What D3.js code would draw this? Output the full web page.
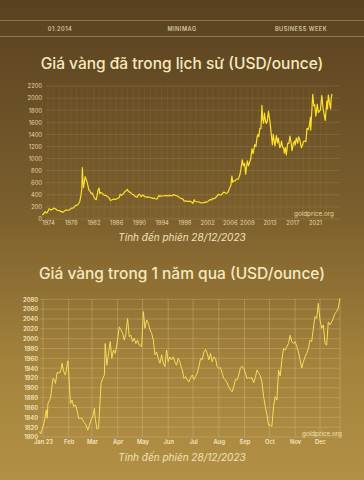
<!DOCTYPE html>
<html>
<head>
<meta charset="utf-8">
<script src="https://cdn.jsdelivr.net/npm/d3@7"></script>
<style>
  html, body { margin: 0; padding: 0; background: #5a4220; }
  svg { display: block; }
</style>
</head>
<body>
<div id="chart"></div>
<script>
// header strip
var headerTexts = ["01.2014", "MINIMAG", "BUSINESS WEEK"]
var titles = ["Giá vàng đã trong lịch sử (USD/ounce)", "Giá vàng trong 1 năm qua (USD/ounce)"]
var caption = "Tính đến phiên 28/12/2023"
var source = "goldprice.org"

// chart 1: history (year, USD/oz)
var histYears = [1973.0,1973.3,1973.5,1973.8,1974.0,1974.2,1974.5,1974.8,1975.0,1975.3,1975.6,1975.9,
  1976.2,1976.6,1976.9,1977.2,1977.6,1977.9,1978.2,1978.5,1978.8,1979.0,1979.3,1979.6,1979.8,1979.95,
  1980.05,1980.15,1980.25,1980.4,1980.55,1980.7,1980.85,1981.0,1981.2,1981.4,1981.6,1981.8,1982.0,1982.3,
  1982.5,1982.7,1982.8,1983.0,1983.1,1983.3,1983.6,1983.9,1984.2,1984.5,1984.8,1985.0,1985.3,1985.6,1985.9,
  1986.2,1986.5,1986.7,1986.9,1987.2,1987.5,1987.8,1987.95,1988.2,1988.5,1988.8,1989.1,1989.4,1989.7,1989.9,
  1990.1,1990.4,1990.7,1990.9,1991.2,1991.5,1991.8,1992.1,1992.4,1992.7,1992.9,1993.2,1993.5,1993.7,1993.9,
  1994.2,1994.5,1994.8,1995.1,1995.4,1995.7,1995.9,1996.1,1996.4,1996.7,1996.9,1997.2,1997.5,1997.8,1997.95,
  1998.3,1998.6,1998.9,1999.2,1999.5,1999.75,1999.9,2000.2,2000.5,2000.8,2001.1,2001.4,2001.7,2001.9,
  2002.2,2002.5,2002.8,2002.95,2003.2,2003.5,2003.8,2003.95,2004.3,2004.5,2004.8,2004.95,2005.3,2005.6,
  2005.8,2005.95,2006.2,2006.37,2006.5,2006.7,2006.9,2007.2,2007.5,2007.8,2007.95,2008.2,2008.4,2008.6,
  2008.8,2008.95,2009.1,2009.3,2009.5,2009.7,2009.9,2010.1,2010.4,2010.6,2010.8,2010.95,2011.1,2011.3,
  2011.5,2011.65,2011.8,2011.95,2012.1,2012.3,2012.45,2012.6,2012.8,2012.95,2013.1,2013.3,2013.5,2013.65,
  2013.8,2013.95,2014.2,2014.4,2014.55,2014.8,2014.95,2015.1,2015.3,2015.5,2015.6,2015.8,2015.95,2016.2,
  2016.4,2016.6,2016.8,2016.95,2017.2,2017.4,2017.5,2017.7,2017.95,2018.1,2018.3,2018.6,2018.8,2018.95,
  2019.2,2019.4,2019.6,2019.8,2019.95,2020.2,2020.25,2020.4,2020.6,2020.8,2020.95,2021.15,2021.4,2021.6,
  2021.8,2021.95,2022.2,2022.4,2022.6,2022.8,2022.95,2023.1,2023.2,2023.35,2023.55,2023.75,2023.85,2023.99]
var histPrices = [65,90,120,100,130,170,150,160,180,170,145,140,
  130,110,135,148,145,162,180,185,220,225,240,290,390,500,
  850,640,520,620,700,660,620,560,480,460,420,430,380,330,
  320,420,480,510,420,440,420,390,390,370,340,305,320,330,325,
  340,350,410,390,410,450,470,490,450,440,410,400,370,360,400,
  410,370,400,380,360,365,360,355,340,345,335,330,390,370,385,
  380,385,390,380,390,385,388,405,390,385,370,350,340,325,295,
  300,290,295,285,260,320,290,285,285,270,265,270,280,278,
  295,320,315,340,335,350,385,410,395,400,430,445,425,430,
  470,510,560,710,610,630,630,660,660,740,820,980,880,920,
  740,860,960,880,940,1000,1160,1080,1230,1200,1350,1400,1360,1500,
  1500,1880,1650,1580,1750,1620,1580,1620,1780,1680,1600,1400,1230,1400,
  1300,1210,1380,1260,1340,1180,1200,1290,1190,1170,1090,1180,1060,1250,
  1250,1370,1260,1130,1250,1290,1220,1340,1250,1360,1320,1180,1220,1280,
  1290,1280,1500,1480,1520,1680,1470,1720,2060,1870,1890,1700,1900,1760,
  1790,1800,2040,1840,1730,1630,1800,1950,1820,2050,1920,1820,2000,2070]
var histYTicks = [0,200,400,600,800,1000,1200,1400,1600,1800,2000,2200]
var histXTicks = [1974,1978,1982,1986,1990,1994,1998,2002,2006,2009,2013,2017,2021]

// chart 2: last year (day of 2023, USD/oz)
var yearDays = [-4,-3,0,2,4,5,6,9,12,14,15,17,20,22,23,25,27,30,31,33,35,37,39,41,43,47,49,52,54,56,58,60,
  62,63,65,67,70,72,74,75,77,79,81,83,85,87,89,92,94,96,98,100,102,104,106,108,110,112,114,116,119,121,
  123,125,127,129,131,133,135,137,139,141,143,145,147,149,151,153,155,157,159,161,163,165,167,
  168,170,172,174,176,178,180,182,184,186,188,190,192,194,196,198,200,202,204,206,208,210,212,214,216,
  218,220,222,224,226,228,230,232,234,236,238,240,242,244,246,248,250,252,254,256,258,260,262,264,266,
  268,270,272,274,276,278,280,282,284,286,288,290,292,294,296,298,300,302,304,306,308,310,312,314,316,
  318,320,322,324,326,328,330,332,334,336,338,340,342,344,346,348,350,352,354,356,358]
var yearPrices = [1811,1806,1821,1835,1855,1838,1868,1879,1919,1916,1909,1931,1930,1938,1950,1933,1926,1955,1930,1868,1875,1862,1865,1855,1838,1838,1831,1824,1814,1824,1835,1841,
  1858,1838,1816,1818,1909,1919,1926,1990,1946,1970,1994,1960,1977,1970,1987,2024,2018,2011,1997,2011,2041,2004,2007,1994,2001,1990,1997,1987,1984,2055,
  2021,2038,2031,2018,2011,1997,1967,1973,1960,1950,1967,1950,1943,1977,1953,1963,1957,1963,1953,1946,1960,1953,1940,
  1936,1919,1923,1916,1912,1921,1926,1917,1923,1930,1943,1960,1957,1973,1978,1970,1957,1970,1953,1963,1960,1943,1940,1941,1930,
  1919,1916,1910,1902,1896,1892,1902,1917,1916,1926,1940,1944,1940,1930,1919,1921,1919,1921,1910,1921,1936,1930,1925,1912,1882,
  1862,1845,1824,1824,1822,1862,1882,1875,1936,1924,1956,1980,1977,1984,1990,2007,1994,1990,1994,1984,1973,1957,1940,1953,1963,
  1970,1980,1997,1994,2021,2045,2041,2072,2038,2021,2028,1990,1987,2034,2028,2034,2041,2051,2055,2062,2082]
var yearYTicks = [1800,1820,1840,1860,1880,1900,1920,1940,1960,1980,2000,2020,2040,2060,2080]
var monthLabels = ["Jan 23","Feb","Mar","Apr","May","Jun","Jul","Aug","Sep","Oct","Nov","Dec"]

var W = 364, H = 480
var svg = d3.select("#chart").append("svg").attr("width", W).attr("height", H)

var grad = svg.append("defs").append("linearGradient").attr("id", "bg")
  .attr("x1", 0).attr("y1", 0).attr("x2", 0).attr("y2", 1)
grad.append("stop").attr("offset", "0").attr("stop-color", "#594120")
grad.append("stop").attr("offset", "0.45").attr("stop-color", "#7c602d")
grad.append("stop").attr("offset", "0.75").attr("stop-color", "#a3823c")
grad.append("stop").attr("offset", "1").attr("stop-color", "#b29045")
svg.append("rect").attr("width", W).attr("height", H).attr("fill", "url(#bg)")

// header
svg.append("line").attr("x1", 0).attr("x2", W).attr("y1", 20.5).attr("y2", 20.5).attr("stroke", "#8e7550").attr("stroke-width", 1)
svg.append("line").attr("x1", 0).attr("x2", W).attr("y1", 36.5).attr("y2", 36.5).attr("stroke", "#8e7550").attr("stroke-width", 1)
var headerX = [60, 182, 301]
svg.selectAll(".hdr").data(headerTexts).enter().append("text")
  .attr("x", (d, i) => headerX[i]).attr("y", 31)
  .attr("text-anchor", "middle")
  .style("font-family", "Inter, 'Open Sans', sans-serif")
  .style("font-size", "5.6px").style("font-weight", 600)
  .style("letter-spacing", "0.5px")
  .attr("fill", "#d6c5a0")
  .text(d => d)

var titleY = [69, 279]
svg.selectAll(".ttl").data(titles).enter().append("text")
  .attr("x", 182).attr("y", (d, i) => titleY[i])
  .attr("text-anchor", "middle")
  .style("font-family", "Inter, 'Noto Sans', sans-serif")
  .style("font-size", "15.5px").style("font-weight", 500)
  .attr("fill", "#f6e8bf")
  .text(d => d)

var captionY = [241, 461]
svg.selectAll(".cap").data(captionY).enter().append("text")
  .attr("x", 182).attr("y", d => d)
  .attr("text-anchor", "middle")
  .style("font-family", "Inter, 'Noto Sans', sans-serif")
  .style("font-size", "10px").style("font-style", "italic")
  .attr("fill", "#f0e2bb")
  .text(caption)

var tickFont = "Inter, 'DejaVu Sans', sans-serif"

// ---------------- chart 1 ----------------
var x1 = d3.scaleLinear().domain([1974, 2021]).range([48, 315])
var y1 = d3.scaleLinear().domain([0, 2200]).range([219, 86])
var g1 = svg.append("g")

g1.selectAll(".vg").data(d3.range(1973, 2024)).enter().append("line")
  .attr("x1", d => x1(d)).attr("x2", d => x1(d)).attr("y1", 86).attr("y2", 219)
  .attr("stroke", "#e8d6a0").attr("stroke-opacity", 0.07)
g1.selectAll(".hg").data(histYTicks).enter().append("line")
  .attr("x1", 46).attr("x2", 340).attr("y1", d => y1(d)).attr("y2", d => y1(d))
  .attr("stroke", "#e8d6a0").attr("stroke-opacity", 0.13)

var ax1 = g1.append("g").attr("transform", "translate(42,0)")
  .call(d3.axisLeft(y1).tickValues(histYTicks).tickFormat(d3.format("d")).tickSize(0).tickPadding(0))
var bx1 = g1.append("g").attr("transform", "translate(0,221)")
  .call(d3.axisBottom(x1).tickValues(histXTicks).tickFormat(d3.format("d")).tickSize(0).tickPadding(0))
;[ax1, bx1].forEach(a => {
  a.select(".domain").remove()
  a.selectAll("text").style("font-family", tickFont).style("font-size", "5.8px")
    .attr("fill", "#e6d5a6")
})
bx1.selectAll("text").attr("dy", "0.71em")

var histData = histYears.map((d, i) => [d, histPrices[i]])
g1.append("path").datum(histData)
  .attr("fill", "none").attr("stroke", "#fde02a").attr("stroke-width", 1.2)
  .attr("stroke-linejoin", "round")
  .attr("d", d3.line().x(d => x1(d[0])).y(d => y1(d[1])))

g1.append("text").attr("x", 314).attr("y", 215.5).attr("text-anchor", "middle")
  .style("font-family", tickFont).style("font-size", "6.3px")
  .attr("fill", "#e9d99a").text(source)

// ---------------- chart 2 ----------------
var x2 = d3.scaleTime().domain([new Date(2023, 0, 1), new Date(2023, 11, 1)]).range([43, 320])
var y2 = d3.scaleLinear().domain([1800, 2080]).range([437, 299.3])
var g2 = svg.append("g")
var monthDates = monthLabels.map((d, i) => new Date(2023, i, 1))

g2.selectAll(".hg").data(yearYTicks).enter().append("line")
  .attr("x1", 40).attr("x2", 340).attr("y1", d => y2(d)).attr("y2", d => y2(d))
  .attr("stroke", "#f2e2b0").attr("stroke-opacity", 0.22)
g2.selectAll(".vg").data(monthDates).enter().append("line")
  .attr("x1", d => x2(d)).attr("x2", d => x2(d)).attr("y1", 299).attr("y2", 437)
  .attr("stroke", "#f2e2b0").attr("stroke-opacity", 0.25)
g2.append("line").attr("x1", 340).attr("x2", 340).attr("y1", 299).attr("y2", 437)
  .attr("stroke", "#f2e2b0").attr("stroke-opacity", 0.25)

var ax2 = g2.append("g").attr("transform", "translate(38,0)")
  .call(d3.axisLeft(y2).tickValues(yearYTicks).tickFormat(d3.format("d")).tickSize(0).tickPadding(0))
var bx2 = g2.append("g").attr("transform", "translate(0,440)")
  .call(d3.axisBottom(x2).tickValues(monthDates).tickFormat((d, i) => monthLabels[i]).tickSize(0).tickPadding(0))
;[ax2, bx2].forEach(a => {
  a.select(".domain").remove()
  a.selectAll("text").style("font-family", tickFont).style("font-size", "5.8px").style("font-weight", 600)
    .attr("fill", "#f3e6c0")
})
bx2.selectAll("text").attr("dy", "0.71em")

var yearData = yearDays.map((d, i) => [new Date(2023, 0, 1 + d), yearPrices[i]])
g2.append("path").datum(yearData)
  .attr("fill", "none").attr("stroke", "#f8dc5a").attr("stroke-width", 1)
  .attr("stroke-linejoin", "round")
  .attr("d", d3.line().x(d => x2(d[0])).y(d => y2(d[1])))

g2.append("text").attr("x", 322).attr("y", 436).attr("text-anchor", "middle")
  .style("font-family", tickFont).style("font-size", "6.3px")
  .attr("fill", "#f5e7b0").text(source)
</script>
</body>
</html>
